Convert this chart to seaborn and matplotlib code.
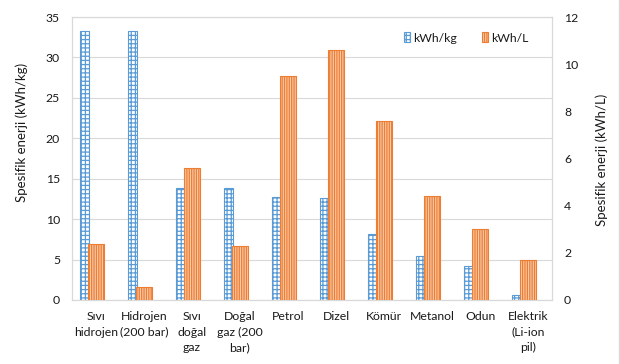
import matplotlib
matplotlib.use("Agg")
import matplotlib.pyplot as plt
import matplotlib.patches as mpatches
from matplotlib.lines import Line2D
import seaborn as sns
import pandas as pd

categories = ["Sıvı\nhidrojen", "Hidrojen\n(200 bar)", "Sıvı\ndoğal\ngaz", "Doğal\ngaz (200\nbar)",
              "Petrol", "Dizel", "Kömür", "Metanol", "Odun", "Elektrik\n(Li-ion\npil)"]
kwh_per_kg = [33.3, 33.3, 13.9, 13.9, 12.8, 12.6, 8.2, 5.5, 4.2, 0.6]
kwh_per_l = [2.36, 0.54, 5.58, 2.29, 9.49, 10.59, 7.6, 4.41, 2.99, 1.69]
left_ticks = [0, 5, 10, 15, 20, 25, 30, 35]
right_ticks = [0, 2, 4, 6, 8, 10, 12]
series_names = ["kWh/kg", "kWh/L"]

BLUE = "#5B9BD5"
ORANGE = "#ED7D31"
ORANGE_FACE = "#F8CBAD"
GRID = "#D9D9D9"
TXT = "#1A1A1A"

sns.set_theme(style="white")
plt.rcParams['font.family'] = ['Lato', 'DejaVu Sans']
plt.rcParams['hatch.linewidth'] = 0.9

df = pd.DataFrame({"cat": categories, "kg": kwh_per_kg, "l": kwh_per_l})

fig = plt.figure(figsize=(6.2, 3.64), dpi=100)
ax = fig.add_axes([72 / 620, 64 / 364, 480 / 620, 283 / 364])

sns.barplot(data=df, x="cat", y="kg", ax=ax, width=0.19, color="white", saturation=1,
            edgecolor=BLUE, linewidth=0.8, hatch="++++")
for p in ax.patches:
    p.set_x(p.get_x() - 0.235)

ax2 = ax.twinx()
sns.barplot(data=df, x="cat", y="l", ax=ax2, width=0.315, color=ORANGE_FACE, saturation=1,
            edgecolor=ORANGE, linewidth=0.8, hatch="|||||||")

for a in (ax, ax2):
    a.set_xlim(-0.5, 9.5)
    a.set_xlabel("")
    a.set_ylabel("")
    for s in a.spines.values():
        s.set_color(GRID)
        s.set_linewidth(0.8)

ax.set_ylim(0, 35)
ax.set_yticks(left_ticks)
ax2.set_ylim(0, 12)
ax2.set_yticks(right_ticks)
ax.set_axisbelow(True)
ax.yaxis.grid(True, color=GRID, linewidth=0.8)
ax.xaxis.grid(False)

ax.tick_params(axis="y", length=0, pad=8.6, labelsize=8.8, labelcolor=TXT)
ax2.tick_params(axis="y", length=0, pad=8.6, labelsize=8.8, labelcolor=TXT)
ax.tick_params(axis="x", length=0, pad=8, labelsize=8.8, labelcolor=TXT)
for t in ax.get_xticklabels():
    t.set_linespacing(1.5)
    t.set_va("top")

fig.text(22 / 620, 1 - 132.5 / 364, "Spesifik enerji (kWh/kg)", rotation=90,
         ha="center", va="center", fontsize=9.5, color=TXT)
fig.text(602 / 620, 1 - 160 / 364, "Spesifik enerji (kWh/L)", rotation=90,
         ha="center", va="center", fontsize=9.5, color=TXT)

handles = [
    mpatches.Patch(facecolor="white", edgecolor=BLUE, hatch="++++", linewidth=0.8),
    mpatches.Patch(facecolor=ORANGE_FACE, edgecolor=ORANGE, hatch="|||||||", linewidth=0.8),
]
fig.legend(handles, series_names, loc="center", bbox_to_anchor=(0.752, 0.896), ncol=2,
           frameon=False, handlelength=0.5, handleheight=0.9, columnspacing=2.0,
           handletextpad=0.3, fontsize=8.8, labelcolor=TXT)

fig.add_artist(Line2D([0.998, 0.998], [0, 1], transform=fig.transFigure, color=GRID, linewidth=1))

fig.savefig("out.png", dpi=100)
